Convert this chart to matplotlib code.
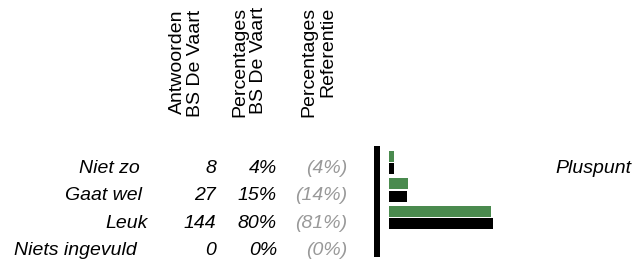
import matplotlib
matplotlib.use("Agg")
import matplotlib.pyplot as plt

# ── Data ─────────────────────────────────────────────────────────────
categories = ["Niet zo", "Gaat wel", "Leuk", "Niets ingevuld"]
answers = [8, 27, 144, 0]
pct_school = [4, 15, 80, 0]
pct_ref = [4, 14, 81, 0]
headers = ["Antwoorden\nBS De Vaart", "Percentages\nBS De Vaart",
           "Percentages\nReferentie"]
side_label = "Pluspunt"

GREEN = "#4a8a4e"
GREY = "#999999"
W, H = 637, 259

plt.rcParams["font.family"] = ["Liberation Sans", "DejaVu Sans"]
FS = 14

fig = plt.figure(figsize=(W / 100, H / 100), dpi=100)


def px(x, y):
    return x / W, 1 - y / H


# ── Column headers (rotated) ─────────────────────────────────────────
for hx, txt in zip([204, 267, 336], headers):
    fig.text(*px(hx, 117), txt, rotation=90, ha="right", va="bottom",
             fontsize=FS, linespacing=1.1)

# ── Table rows ───────────────────────────────────────────────────────
label_right = [140, 142, 148, 137]
for i, cat in enumerate(categories):
    yb = 173 + 27.3 * i
    fig.text(*px(label_right[i], yb), cat, ha="right", va="baseline",
             fontsize=FS, style="italic")
    fig.text(*px(216, yb), str(answers[i]), ha="right", va="baseline",
             fontsize=FS, style="italic")
    fig.text(*px(277, yb), f"{pct_school[i]}%", ha="right", va="baseline",
             fontsize=FS, style="italic")
    fig.text(*px(347, yb), f"({pct_ref[i]}%)", ha="right", va="baseline",
             fontsize=FS, style="italic", color=GREY)

fig.text(*px(555, 173), side_label, ha="left", va="baseline",
         fontsize=FS, style="italic")

# ── Bars ─────────────────────────────────────────────────────────────
scale = 1.28            # px per percent
x0_px = 389             # pixel of 0 %
ax_l, ax_r = 370, 520
ax_t, ax_b = 146, 257
row0, step = 162.5, 27.5

ax = fig.add_axes([ax_l / W, 1 - ax_b / H, (ax_r - ax_l) / W, (ax_b - ax_t) / H])
ax.set_xlim((ax_l - x0_px) / scale, (ax_r - x0_px) / scale)
ax.set_ylim((ax_b - row0) / step, (ax_t - row0) / step)

ys = list(range(len(categories)))
ax.barh([y - 0.225 for y in ys], pct_school, height=0.4, color=GREEN, left=0)
ax.barh([y + 0.225 for y in ys], pct_ref, height=0.4, color="black", left=0)

for s in ["top", "right", "bottom"]:
    ax.spines[s].set_visible(False)
ax.spines["left"].set_position(("data", (377 - x0_px) / scale))
ax.spines["left"].set_linewidth(6 * 0.72)
ax.spines["left"].set_capstyle("butt")
ax.set_xticks([])
ax.set_yticks([])
ax.patch.set_alpha(0)

fig.savefig("out.png", dpi=100)
